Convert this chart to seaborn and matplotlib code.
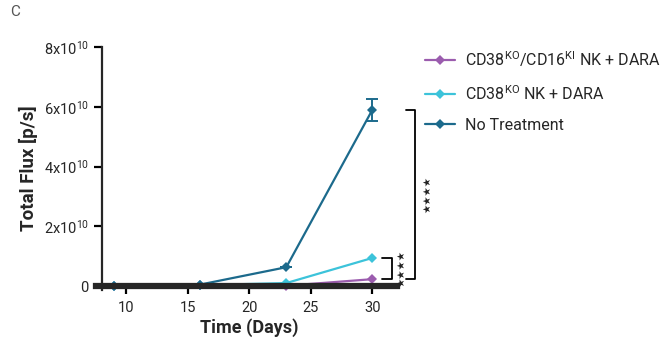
import matplotlib
matplotlib.use("Agg")
import matplotlib.pyplot as plt
import seaborn as sns
import pandas as pd
import numpy as np

days = [9, 16, 23, 30]
groups = ["CD38$^{\\mathrm{KO}}$/CD16$^{\\mathrm{KI}}$ NK + DARA",
          "CD38$^{\\mathrm{KO}}$ NK + DARA", "No Treatment"]
flux_dual = [0.0, 0.02e10, 0.01e10, 0.23e10]
flux_ko = [0.0, 0.03e10, 0.10e10, 0.94e10]
flux_none = [0.0, 0.05e10, 0.63e10, 5.9e10]
err_none = [0.0, 0.0, 0.0, 0.37e10]
yticks = [0, 2e10, 4e10, 6e10, 8e10]
ytick_labels = ["0", "2x10$^{10}$", "4x10$^{10}$", "6x10$^{10}$", "8x10$^{10}$"]
xticks = [10, 15, 20, 25, 30]
colors = ["#9b5cae", "#3cc3da", "#1c6a8c"]

sns.set_style("ticks")
plt.rcParams["font.family"] = ["Roboto", "DejaVu Sans"]
plt.rcParams["mathtext.fontset"] = "custom"
plt.rcParams["mathtext.rm"] = "Roboto"
plt.rcParams["mathtext.default"] = "regular"

df = pd.DataFrame({
    "day": days * 3,
    "flux": flux_dual + flux_ko + flux_none,
    "group": [groups[0]] * 4 + [groups[1]] * 4 + [groups[2]] * 4,
})

fig = plt.figure(figsize=(6.7, 3.51), dpi=100)
ax = fig.add_axes([0.152, 0.174, 0.4405, 0.692])

sns.lineplot(data=df, x="day", y="flux", hue="group", hue_order=groups,
             palette=colors, marker="D", markersize=5.5, markeredgewidth=0,
             linewidth=1.6, errorbar=None, ax=ax, legend=True)
ax.errorbar(days, flux_none, yerr=err_none, fmt="none", ecolor=colors[2],
            elinewidth=1.4, capsize=4, capthick=1.4)

ax.set_xlim(8, 32)
ax.set_ylim(-0.13e10, 8e10)
ax.set_yticks(yticks)
ax.set_yticklabels(ytick_labels)
ax.set_xticks(xticks)
ax.spines["top"].set_visible(False)
ax.spines["right"].set_visible(False)
ax.spines["left"].set_linewidth(1.6)
ax.spines["bottom"].set_position(("data", 0))
ax.spines["bottom"].set_linewidth(4.5)
ax.spines["bottom"].set_bounds(7.5, 32)
ax.tick_params(axis="both", width=1.6, length=6, labelsize=10.5, color="black")
ax.tick_params(axis="x", pad=5)
ax.set_xlabel("Time (Days)", fontsize=13, fontweight="bold", labelpad=2)
ax.set_ylabel("Total Flux [p/s]", fontsize=13.5, fontweight="bold", labelpad=4)

# significance brackets
lo = flux_dual[-1]
def bracket(x0, x1, ytop, ybot, xs):
    ax.plot([x0, x1, x1, x0], [ytop, ytop, ybot, ybot], color="black",
            lw=1.3, clip_on=False)
    ax.text(xs, (ytop + ybot) / 2, "\u2605\u2605\u2605\u2605", rotation=90,
            ha="center", va="center", fontsize=7.5, family="DejaVu Sans",
            color="#222222", clip_on=False)

bracket(30.8, 31.6, flux_ko[-1], lo, 32.35)
bracket(32.75, 33.5, flux_none[-1], lo, 34.45)

handles, labels = ax.get_legend_handles_labels()
ax.legend(handles, labels, loc="upper left", bbox_to_anchor=(1.045, 1.05),
          frameon=False, fontsize=11.5, handlelength=1.9, labelspacing=0.95,
          handletextpad=0.6)

fig.text(0.015, 0.955, "C", fontsize=11, color="#555555")

fig.savefig("out.png", dpi=100)
